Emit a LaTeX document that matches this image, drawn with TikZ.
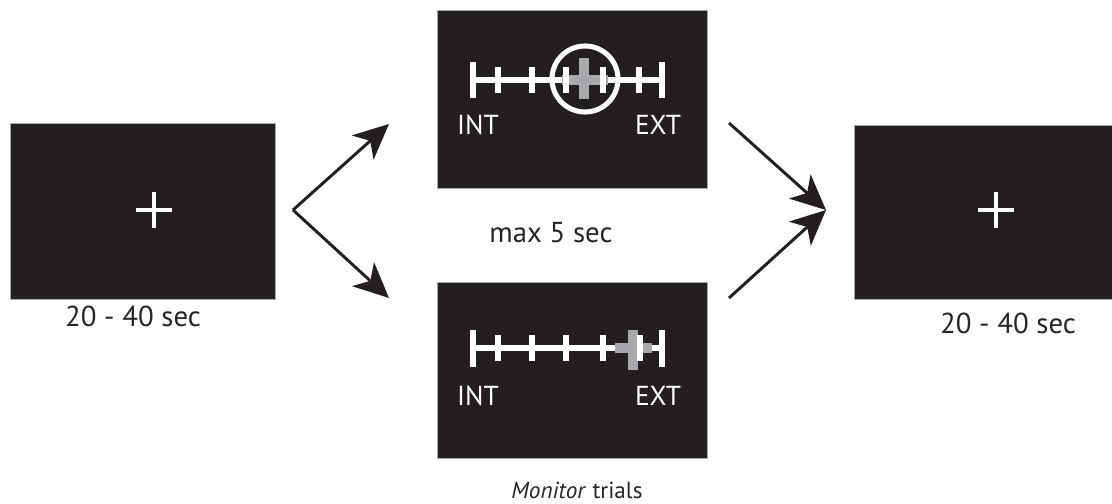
\documentclass[tikz,border=0pt]{standalone}
\usepackage{fontspec}
\setmainfont{PT Sans}
\usetikzlibrary{arrows.meta}
\definecolor{screenbg}{HTML}{231F20}
\definecolor{markgray}{HTML}{A7A9AC}

\begin{document}
\begin{tikzpicture}[x=0.025cm,y=-0.025cm]
\tikzset{screen/.style = {fill=screenbg, draw=gray!70, line width=0.6pt, inner sep=0pt}}
\tikzset{fixcross/.style = {draw=white, line width=2.6pt}}
\tikzset{flow/.style = {draw=screenbg, line width=2.1pt, -{Stealth[length=25pt,width=23pt,inset=7pt]}}}
\tikzset{caption/.style = {anchor=base, text=black!85, font=\fontsize{20.5}{24}\selectfont}}
\tikzset{pole/.style = {anchor=base, text=white, font=\fontsize{19.5}{22}\selectfont}}
\tikzset{bar/.style = {draw=white, line width=3.8pt}}
\tikzset{endbar/.style = {draw=white, line width=4.4pt}}
\tikzset{tick/.style = {draw=white, line width=4.4pt}}
\tikzset{cursor/.style = {draw=markgray, line width=6.5pt}}
\tikzset{band/.style = {draw=markgray, line width=7.5pt}}
\useasboundingbox (0,0) rectangle (1112,504);

% screens
\node[screen, minimum width=6.625cm, minimum height=4.4cm] (rest1) at (142.5,211) {};
\node[screen, minimum width=6.75cm, minimum height=4.45cm] (rate) at (572,99) {};
\node[screen, minimum width=6.75cm, minimum height=4.4cm] (monitor) at (572,370) {};
\node[screen, minimum width=6.5cm, minimum height=4.35cm] (rest2) at (984,212) {};

% fixation crosses
\draw[fixcross, shift={(154,210)}] (-18,0) -- (18,0) (0,-18) -- (0,18);
\draw[fixcross, shift={(996,210)}] (-18,0) -- (18,0) (0,-18) -- (0,18);

% rating scale with circle
\draw[bar] (473,80) -- (662,80);
\draw[band] (562,80) -- (608,80);
\foreach \x in {498,532,566,603,639}
  \draw[tick] (\x,67) -- (\x,93);
\draw[cursor] (584,58) -- (584,99);
\draw[endbar] (473,62) -- (473,98) (662,62) -- (662,98);
\draw[draw=white, line width=3.6pt] (585,79) circle (33);
\node[pole] (int1) at (478,135) {INT};
\node[pole] (ext1) at (658,135) {EXT};

% monitor scale
\draw[bar] (473,348) -- (662,348);
\draw[band] (615,348) -- (652,348);
\draw[cursor] (633,330) -- (633,370);
\foreach \x in {498,532,566,603,640}
  \draw[tick] (\x,335) -- (\x,361);
\draw[endbar] (473,330) -- (473,367) (662,330) -- (662,367);
\node[pole] (int2) at (478,405) {INT};
\node[pole] (ext2) at (658,405) {EXT};

% labels
\node[caption] (t1) at (133,327) {20 - 40 sec};
\node[caption] (t2) at (1008,333) {20 - 40 sec};
\node[caption] (t3) at (551,243) {max 5 sec};
\node[caption, font=\fontsize{16.5}{19}\selectfont] (t4) at (577,498) {\textit{Monitor} trials};

% arrows
\coordinate (split) at (293,210);
\coordinate (uptip) at (389,124);
\coordinate (downtip) at (389,298);
\coordinate (upstart) at (729,123);
\coordinate (downstart) at (729,298);
\coordinate (join) at (826,210);
\draw[flow] (split) -- (uptip);
\draw[flow] (split) -- (downtip);
\draw[flow] (upstart) -- (join);
\draw[flow] (downstart) -- (join);
\end{tikzpicture}
\end{document}
